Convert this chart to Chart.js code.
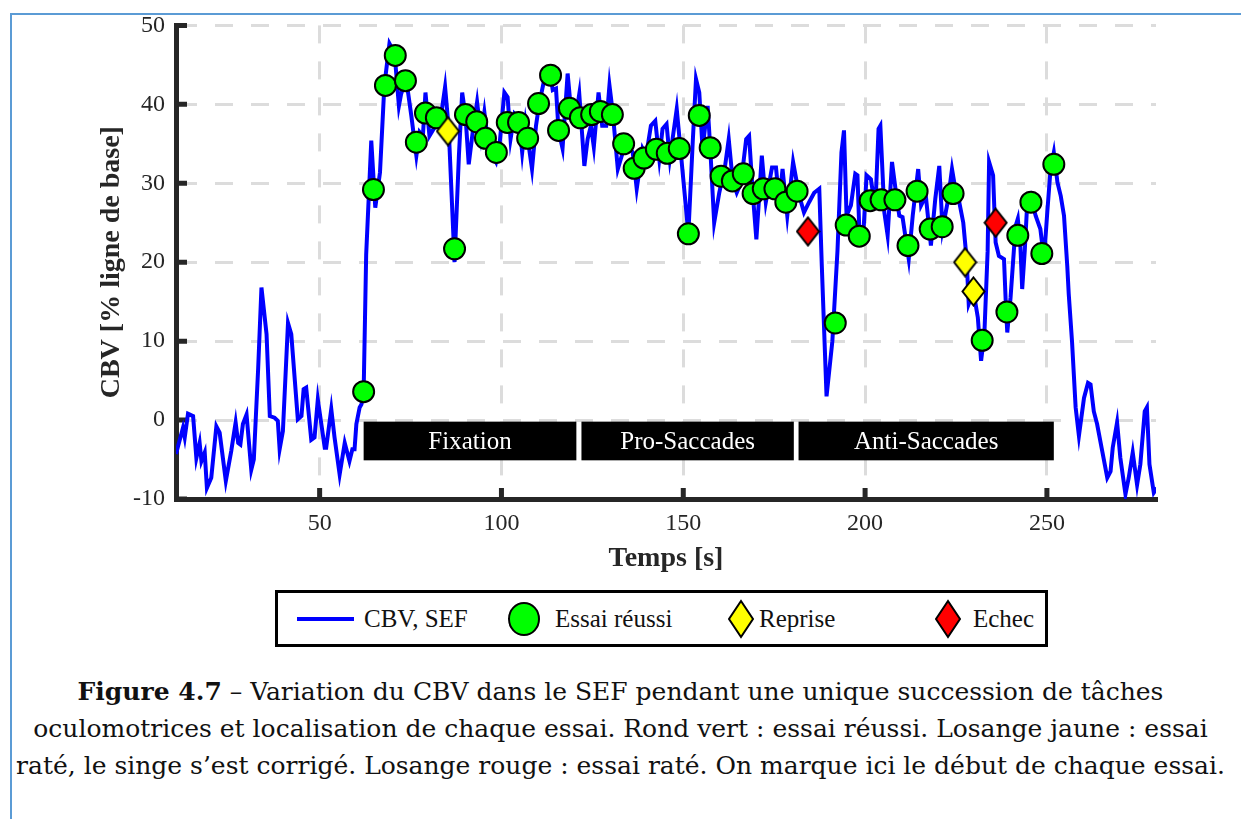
<!DOCTYPE html>
<html>
<head>
<meta charset="utf-8">
<script src="https://cdn.jsdelivr.net/npm/chart.js@4.4.1/dist/chart.umd.min.js"></script>
<style>
  body { margin: 0; background: #fff; }
  #page { position: relative; width: 1241px; height: 819px; overflow: hidden; font-family: "Liberation Serif", "Times New Roman", serif; color: #000; }
  #frame { position: absolute; left: 10px; top: 13px; right: 0; bottom: 0; border-top: 2px solid #5b9bd5; border-left: 2px solid #5b9bd5; }
  #chart { position: absolute; left: 0; top: 0; }
  #legend { position: absolute; left: 275px; top: 590px; width: 773px; height: 57px; border: 3px solid #000; box-sizing: border-box; background: #fff; }
  #legend .item { position: absolute; top: 0; height: 51px; display: flex; align-items: center; font-size: 25px; color: #111; }
  #legend svg { display: block; }
  #caption { position: absolute; left: 0; top: 673px; width: 1241px; text-align: center; font-family: "DejaVu Serif", serif; font-size: 25px; line-height: 37px; color: #111; white-space: nowrap; }
</style>
</head>
<body>
<div id="page">
  <div id="frame"></div>
  <canvas id="chart" width="1241" height="590"></canvas>
  <div id="legend"></div>
  <div id="caption"><b>Figure 4.7</b> – Variation du CBV dans le SEF pendant une unique succession de tâches<br>oculomotrices et localisation de chaque essai. Rond vert : essai réussi. Losange jaune : essai<br>raté, le singe s’est corrigé. Losange rouge : essai raté. On marque ici le début de chaque essai.</div>
</div>
<script>
// CBV dans le SEF (temps en s, valeur en % de la ligne de base)
const cbvTime = [10.5, 12.4, 12.9, 13.8, 15.2, 16.1, 17.0, 17.5, 18.4, 19.0, 20.2, 21.6, 22.5, 24.2, 25.7, 26.9, 27.6, 28.2, 28.9, 29.9,
  31.2, 31.9, 33.1, 34.0, 35.4, 36.3, 37.6, 38.5, 39.0, 39.9, 41.3, 42.2, 44.0, 45.0, 45.6, 46.3, 47.7, 48.6, 49.5, 51.4,
  51.8, 53.2, 54.1, 55.5, 56.9, 58.2, 59.0, 59.6, 60.1, 61.0, 61.5, 62.1, 62.8, 64.2, 65.3, 66.6, 67.8, 69.2, 70.6, 71.8,
  72.4, 73.8, 75.2, 76.6, 77.5, 78.4, 79.1, 80.2, 81.1, 82.5, 83.4, 84.5, 85.5, 87.1, 88.3, 89.2, 90.1, 91.0, 92.1, 93.3,
  94.4, 95.3, 96.5, 98.5, 99.5, 100.8, 101.7, 102.5, 103.6, 104.8, 105.7, 106.6, 108.4, 109.5, 110.4, 111.8, 113.4, 114.1, 115.0, 115.7,
  116.8, 118.2, 119.1, 120.5, 121.4, 122.8, 123.7, 124.6, 125.4, 126.7, 127.7, 128.8, 129.7, 130.6, 132.0, 134.2, 136.1, 137.2, 138.8, 139.8,
  141.1, 142.3, 143.4, 144.3, 145.4, 146.3, 148.2, 149.4, 151.4, 152.6, 153.5, 154.4, 155.3, 156.7, 157.4, 158.5, 159.9, 161.5, 162.5, 163.6,
  164.7, 165.9, 167.3, 168.1, 169.1, 170.1, 171.6, 172.7, 174.4, 175.5, 176.4, 177.3, 178.6, 180.2, 181.9, 183.2, 184.6, 186.0, 187.4, 188.1,
  189.4, 191.0, 192.4, 193.5, 194.2, 194.9, 196.1, 197.3, 197.9, 198.5, 199.5, 200.4, 201.6, 202.8, 203.7, 204.2, 205.3, 206.2, 207.4, 208.5,
  209.4, 210.3, 212.0, 213.1, 214.6, 215.4, 216.7, 218.1, 219.3, 220.4, 221.3, 222.7, 223.9, 225.0, 225.9, 227.0, 227.9, 228.5, 229.8, 231.0,
  231.9, 232.8, 233.7, 234.1, 235.2, 235.9, 236.8, 238.2, 238.7, 239.1, 240.0, 240.9, 241.4, 242.0, 242.7, 243.2, 243.9, 244.6, 245.5, 246.9,
  248.2, 249.2, 250.1, 251.0, 251.9, 252.9, 253.8, 254.7, 255.6, 256.0, 256.9, 257.9, 258.8, 260.2, 261.3, 262.0, 262.9, 263.8, 265.2, 266.6,
  267.5, 268.1, 269.3, 270.2, 271.6, 272.5, 273.6, 274.8, 275.7, 276.9, 277.5, 278.2, 279.4, 280.3];
const cbvValue = [-4.3, -1.0, -2.2, 0.8, 0.5, -4.8, -2.9, -5.2, -4.1, -8.6, -7.3, -0.8, -1.6, -7.7, -3.9, -0.3, -2.9, -3.1, -0.5, 0.7,
  -6.3, -5.0, 6.6, 16.8, 10.9, 0.5, 0.3, -0.1, -3.7, -1.4, 12.3, 10.9, 0.1, 0.5, 3.9, 4.1, -2.5, -2.2, 2.6, -3.5,
  -3.5, 1.4, -2.2, -6.9, -2.9, -5.2, -3.7, -3.7, -0.5, 1.6, 2.0, 3.6, 21.0, 35.4, 26.9, 31.4, 42.4, 47.7, 46.5, 39.8,
  41.3, 43.2, 38.6, 33.5, 36.5, 36.0, 41.5, 36.0, 36.7, 37.7, 38.6, 42.2, 36.9, 20.0, 33.5, 41.5, 38.6, 32.4, 36.5, 40.3,
  36.0, 39.0, 34.4, 32.7, 35.0, 41.5, 40.9, 35.6, 38.8, 38.2, 33.9, 37.7, 31.8, 37.3, 40.1, 43.2, 43.9, 41.8, 42.0, 36.7,
  34.4, 43.9, 39.4, 38.6, 41.3, 32.2, 35.6, 37.3, 34.6, 41.5, 37.3, 37.3, 42.4, 39.0, 31.8, 35.2, 33.9, 29.3, 34.4, 33.5,
  37.3, 37.9, 33.1, 36.9, 37.5, 33.1, 39.4, 33.5, 23.6, 35.2, 43.2, 41.5, 34.4, 39.8, 34.6, 25.0, 28.8, 32.2, 35.6, 30.3,
  28.8, 30.1, 35.6, 36.0, 28.8, 22.9, 33.5, 27.6, 32.0, 32.0, 27.6, 31.8, 25.9, 32.7, 28.4, 26.3, 27.6, 28.8, 29.3, 19.5,
  3.0, 10.0, 21.4, 33.9, 36.7, 25.9, 27.2, 31.2, 31.0, 22.9, 23.4, 31.0, 30.5, 26.7, 36.9, 37.3, 26.3, 23.4, 32.7, 28.8,
  25.9, 25.7, 20.4, 25.9, 31.8, 27.2, 28.4, 22.1, 28.0, 32.2, 24.2, 27.6, 31.8, 28.8, 27.6, 25.0, 20.5, 14.7, 16.3, 13.0,
  7.5, 10.9, 21.4, 32.7, 31.0, 22.5, 20.8, 20.4, 14.7, 11.1, 15.5, 21.4, 24.6, 25.5, 22.1, 16.6, 21.4, 27.6, 28.4, 25.9,
  24.2, 20.4, 26.3, 31.8, 33.9, 30.1, 28.4, 25.9, 19.5, 16.0, 10.0, 1.6, -2.0, 2.8, 4.7, 4.5, 1.1, -0.5, -3.9, -7.3,
  -6.5, -3.5, -0.3, -4.8, -9.4, -7.3, -4.1, -8.2, -5.6, 1.1, 1.6, -5.6, -9.2, -8.6];

// début de chaque essai
const okTime = [62.1, 64.8, 68.1, 70.8, 73.6, 76.6, 79.1, 82.1, 87.1, 90.1, 93.2, 95.6, 98.6, 101.6, 104.7, 107.2, 110.2, 113.5, 115.7, 118.7,
  121.7, 124.8, 127.2, 130.5, 133.6, 136.5, 139.2, 142.6, 145.6, 148.9, 151.4, 154.4, 157.4, 160.4, 163.5, 166.5, 169.2, 172.0, 175.2, 178.2,
  181.3, 191.8, 194.8, 198.4, 201.4, 204.4, 208.2, 211.8, 214.3, 217.9, 221.2, 224.2, 232.2, 239.0, 242.0, 245.6, 248.6, 251.9];
const okValue = [3.6, 29.2, 42.4, 46.2, 43.0, 35.2, 38.9, 38.3, 21.7, 38.7, 37.8, 35.7, 33.9, 37.7, 37.7, 35.7, 40.1, 43.7, 36.7, 39.5,
  38.3, 38.7, 39.1, 38.7, 35.0, 31.9, 33.2, 34.3, 33.8, 34.4, 23.6, 38.6, 34.5, 30.9, 30.3, 31.2, 28.7, 29.3, 29.3, 27.6,
  29.0, 12.3, 24.7, 23.3, 27.8, 27.9, 27.9, 22.1, 29.0, 24.2, 24.5, 28.7, 10.1, 13.7, 23.4, 27.6, 21.1, 32.4];
const retryTime = [85.3, 227.5, 229.8];
const retryValue = [36.6, 20.0, 16.3];
const failTime = [184.3, 235.9];
const failValue = [23.9, 25.0];

// blocs de tâches
const phaseNames = ["Fixation", "Pro-Saccades", "Anti-Saccades"];
const phaseStart = [62.1, 122.0, 181.7];
const phaseEnd = [120.6, 180.4, 251.9];
const phaseTop = -0.2;
const phaseBottom = -5.1;

const xTicks = [50, 100, 150, 200, 250];
const yTicks = [-10, 0, 10, 20, 30, 40, 50];

const axisColor = "#262626";
const serif = "'Liberation Serif', 'Times New Roman', serif";

function pts(xs, ys) {
  return xs.map((x, i) => ({ x: x, y: ys[i] }));
}

function diamond(fill, w, h) {
  const c = document.createElement("canvas");
  c.width = w; c.height = h;
  const g = c.getContext("2d");
  g.beginPath();
  g.moveTo(w / 2, 1.5);
  g.lineTo(w - 1.5, h / 2);
  g.lineTo(w / 2, h - 1.5);
  g.lineTo(1.5, h / 2);
  g.closePath();
  g.fillStyle = fill;
  g.fill();
  g.lineWidth = 2;
  g.strokeStyle = "#000";
  g.stroke();
  return c;
}

// blocs noirs + graduations vers l'intérieur
const phasePlugin = {
  id: "phases",
  beforeDatasetsDraw(chart) {
    const { ctx, scales: { x, y } } = chart;
    ctx.save();
    ctx.font = "25px " + serif;
    ctx.textAlign = "center";
    ctx.textBaseline = "middle";
    const y0 = y.getPixelForValue(phaseTop);
    const y1 = y.getPixelForValue(phaseBottom);
    phaseNames.forEach((name, i) => {
      const x0 = x.getPixelForValue(phaseStart[i]);
      const x1 = x.getPixelForValue(phaseEnd[i]);
      ctx.fillStyle = "#000";
      ctx.fillRect(x0, y0, x1 - x0, y1 - y0);
      ctx.fillStyle = "#fff";
      ctx.fillText(name, (x0 + x1) / 2, (y0 + y1) / 2 + 1);
    });
    ctx.strokeStyle = axisColor;
    ctx.lineWidth = 5;
    ctx.beginPath();
    yTicks.forEach(v => {
      const p = y.getPixelForValue(v);
      ctx.moveTo(x.left, p);
      ctx.lineTo(x.left + 11, p);
    });
    xTicks.forEach(v => {
      const p = x.getPixelForValue(v);
      ctx.moveTo(p, y.bottom);
      ctx.lineTo(p, y.bottom - 11);
    });
    ctx.stroke();
    ctx.restore();
  }
};

const yellowDiamond = diamond("#ffff00", 25, 31);
const redDiamond = diamond("#ff0000", 25, 31);

const chart = new Chart(document.getElementById("chart"), {
  type: "scatter",
  data: {
    datasets: [
      {
        type: "line",
        label: "CBV, SEF",
        data: pts(cbvTime, cbvValue),
        borderColor: "#0000ff",
        borderWidth: 4,
        pointRadius: 0,
        tension: 0,
        fill: false,
        order: 4
      },
      {
        label: "Essai réussi",
        data: pts(okTime, okValue),
        backgroundColor: "#00ff00",
        borderColor: "#000",
        borderWidth: 2,
        pointRadius: 10.5,
        order: 3
      },
      {
        label: "Reprise",
        data: pts(retryTime, retryValue),
        pointStyle: yellowDiamond,
        backgroundColor: "#ffff00",
        order: 2
      },
      {
        label: "Echec",
        data: pts(failTime, failValue),
        pointStyle: redDiamond,
        backgroundColor: "#ff0000",
        order: 1
      }
    ]
  },
  options: {
    responsive: false,
    animation: false,
    devicePixelRatio: 1,
    events: [],
    layout: { padding: { left: 0, top: 25, right: 85, bottom: 0 } },
    plugins: {
      legend: { display: false },
      tooltip: { enabled: false }
    },
    scales: {
      x: {
        type: "linear",
        min: 10.5,
        max: 280,
        afterBuildTicks: s => { s.ticks = xTicks.map(v => ({ value: v })); },
        afterFit: s => { s.height = 91; },
        grid: { color: "#dcdcdc", lineWidth: 3, drawTicks: false },
        border: { display: true, color: axisColor, width: 5, dash: [18, 18] },
        ticks: { padding: 10, color: axisColor, font: { family: serif, size: 24 } },
        title: {
          display: true,
          text: "Temps [s]",
          color: axisColor,
          font: { family: serif, size: 28, weight: "bold" },
          padding: { top: 0, bottom: 14 }
        }
      },
      y: {
        type: "linear",
        min: -10,
        max: 50,
        afterBuildTicks: s => { s.ticks = yTicks.map(v => ({ value: v })); },
        afterFit: s => { s.width = 176; },
        grid: { color: "#dcdcdc", lineWidth: 3, drawTicks: false },
        border: { display: true, color: axisColor, width: 5, dash: [18, 18] },
        ticks: { padding: 11, color: axisColor, font: { family: serif, size: 24 } },
        title: {
          display: true,
          text: "CBV [% ligne de base]",
          color: axisColor,
          font: { family: serif, size: 28, weight: "bold" },
          padding: { top: 95, bottom: 0 }
        }
      }
    }
  },
  plugins: [phasePlugin]
});

// légende construite à partir des séries
const legendPos = [
  { icon: 19, text: 86 },
  { icon: 229, text: 277 },
  { icon: 449, text: 481 },
  { icon: 656, text: 695 }
];
const legendBox = document.getElementById("legend");
chart.data.datasets.forEach((ds, i) => {
  let svg;
  if (i === 0) {
    svg = '<svg width="57" height="8"><line x1="0" y1="4" x2="57" y2="4" stroke="' + ds.borderColor + '" stroke-width="4"/></svg>';
  } else if (i === 1) {
    svg = '<svg width="34" height="36"><ellipse cx="17" cy="18" rx="15" ry="16" fill="' + ds.backgroundColor + '" stroke="#000" stroke-width="2"/></svg>';
  } else {
    svg = '<svg width="28" height="40"><polygon points="14,2 26,20 14,38 2,20" fill="' + ds.backgroundColor + '" stroke="#000" stroke-width="2"/></svg>';
  }
  const icon = document.createElement("div");
  icon.className = "item";
  icon.style.left = legendPos[i].icon + "px";
  icon.innerHTML = svg;
  const label = document.createElement("div");
  label.className = "item";
  label.style.left = legendPos[i].text + "px";
  label.textContent = ds.label;
  legendBox.appendChild(icon);
  legendBox.appendChild(label);
});
</script>
</body>
</html>
